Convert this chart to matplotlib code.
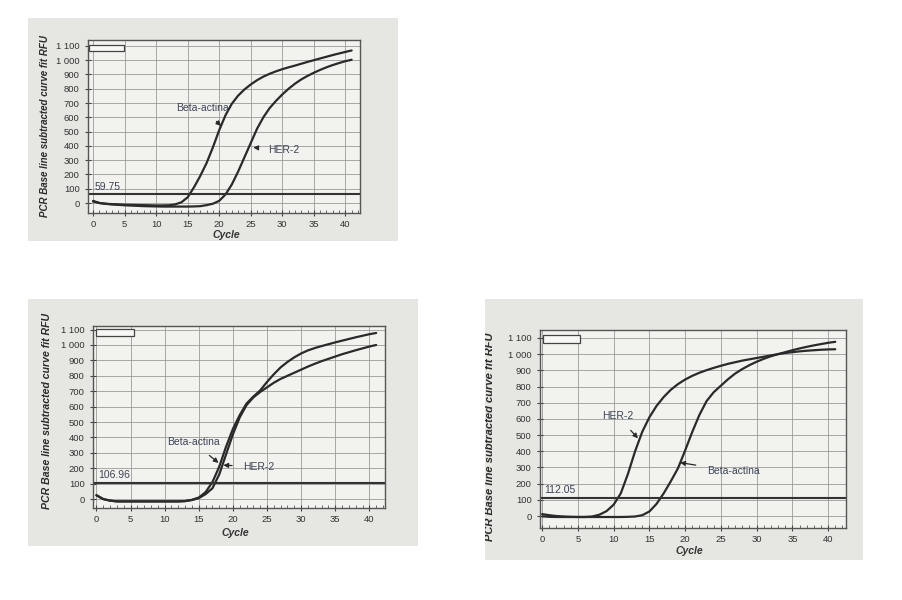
import numpy as np
import matplotlib
matplotlib.use("Agg")
import matplotlib.pyplot as plt
from matplotlib.ticker import FuncFormatter, MultipleLocator
from matplotlib.patches import Rectangle

plt.rcParams['font.family'] = ['Liberation Sans', 'DejaVu Sans']

# cycles 0..41
cycles = np.arange(0, 42)

# panel 1 (top left)
p1_beta = [15, 0, -5, -8, -10, -12, -13, -14, -15, -16, -17, -17, -16, -10, 5, 40,
           110, 190, 280, 390, 510, 615, 695, 752, 795, 830, 860, 885, 905, 922,
           937, 950, 962, 975, 988, 1000, 1012, 1024, 1036, 1047, 1058, 1068]
p1_her2 = [10, 0, -6, -10, -13, -16, -18, -20, -22, -23, -24, -25, -25, -25, -25, -25,
           -24, -22, -15, -5, 15, 60, 130, 220, 320, 420, 520, 600, 665, 715,
           760, 800, 835, 865, 890, 912, 932, 950, 966, 980, 993, 1003]
p1_threshold = 59.75

# panel 2 (bottom left)
p2_beta = [25, 0, -10, -15, -15, -15, -15, -15, -15, -15, -15, -15, -15, -13, -5, 10,
           45, 110, 210, 340, 455, 545, 620, 665, 705, 760, 810, 855, 890, 920,
           945, 965, 980, 993, 1005, 1017, 1028, 1039, 1050, 1060, 1070, 1078]
p2_her2 = [25, 0, -10, -15, -15, -15, -15, -15, -15, -15, -15, -15, -15, -13, -6, 6,
           32, 70, 160, 290, 420, 530, 610, 660, 695, 725, 755, 780, 800, 820,
           840, 860, 878, 895, 910, 925, 940, 953, 966, 978, 990, 1000]
p2_threshold = 106.96

# panel 3 (bottom right)
p3_her2 = [12, 5, 0, -3, -5, -6, -6, -3, 8, 30, 70, 140, 260, 400, 520, 610,
           680, 735, 780, 815, 843, 866, 885, 901, 915, 928, 940, 950, 960, 968,
           976, 984, 992, 1000, 1007, 1012, 1017, 1021, 1024, 1027, 1029, 1030]
p3_beta = [-2, -5, -6, -6, -6, -6, -6, -6, -6, -6, -6, -6, -5, -3, 5, 28,
           75, 140, 215, 295, 405, 520, 625, 710, 765, 805, 845, 880, 908, 932,
           953, 971, 987, 1000, 1012, 1024, 1035, 1045, 1054, 1062, 1070, 1076]
p3_threshold = 112.05

y_ticks = np.arange(0, 1101, 100)
x_ticks = np.arange(0, 41, 5)

BG = '#e6e6e2'
FACE = '#f2f2ef'
INK = '#2a2a2a'
LABEL = '#3d4457'


def thousands(v, pos):
    v = int(round(v))
    if v >= 1000:
        return f"{v // 1000} {v % 1000:03d}"
    return str(v)


def panel(fig, photo_rect, ax_rect, xlim, ylim, curves, threshold, notes,
          box, ylab, xlab_xy):
    bg = fig.add_axes(photo_rect)
    bg.set_facecolor(BG)
    bg.set_xticks([])
    bg.set_yticks([])
    for s in bg.spines.values():
        s.set_visible(False)

    ax = fig.add_axes(ax_rect)
    ax.set_facecolor(FACE)
    ax.set_xlim(*xlim)
    ax.set_ylim(*ylim)
    ax.set_xticks(x_ticks)
    ax.set_yticks(y_ticks)
    ax.xaxis.set_minor_locator(MultipleLocator(1))
    ax.yaxis.set_major_formatter(FuncFormatter(thousands))
    ax.grid(True, color='#9a9a9a', lw=0.6)
    ax.tick_params(axis='both', which='major', direction='inout', length=4,
                   labelsize=6.8, colors='#444', labelcolor='#333', pad=3)
    ax.tick_params(axis='y', which='major', pad=4)
    ax.tick_params(axis='x', which='minor', direction='in', length=2.5, colors='#555')
    for s in ax.spines.values():
        s.set_color('#555')
        s.set_linewidth(1.0)

    for vals in curves:
        ax.plot(cycles, vals, color=INK, lw=1.6, solid_capstyle='round')

    ax.axhline(threshold, color='#333', lw=1.5)
    ax.text(0.3, threshold + 15, f"{threshold:.2f}", fontsize=7.5, color=LABEL,
            va='bottom', ha='left')

    for label, txt_xy, tip_xy in notes:
        ax.annotate(label, xy=tip_xy, xytext=txt_xy, fontsize=7.5, color=LABEL,
                    ha='center', va='center',
                    arrowprops=dict(arrowstyle='-|>', color=INK, lw=0.9,
                                    mutation_scale=7, shrinkA=6, shrinkB=0))

    ax.add_patch(Rectangle(box[:2], box[2], box[3], transform=ax.transAxes,
                           facecolor='#f7f7f5', edgecolor='#444', lw=0.9, zorder=5))

    lx, ly, lva, lsize = ylab
    t = fig.text(lx, ly, 'PCR Base line subtracted curve fit RFU',
                 rotation=90, ha='center', va=lva, fontsize=lsize,
                 fontweight='bold', fontstyle='italic', color='#2a2a2a')
    t.set_clip_box(bg.bbox)
    t.set_clip_on(True)
    fig.text(xlab_xy[0], xlab_xy[1], 'Cycle', ha='center', va='center',
             fontsize=7.5, fontweight='bold', fontstyle='italic', color='#333')
    return ax


fig = plt.figure(figsize=(9.03, 6.0), dpi=100)
fig.patch.set_facecolor('white')

panel(fig, [0.031, 0.598, 0.410, 0.372], [0.0975, 0.645, 0.301, 0.288],
      (-0.8, 42.3), (-70, 1140), [p1_beta, p1_her2], p1_threshold,
      [('Beta-actina', (17.3, 666), (20.3, 540)),
       ('HER-2', (30.2, 372), (25.4, 389))],
      (0.004, 0.935, 0.13, 0.036), (0.050, 1 - 126 / 600, 'center', 7),
      (226.7 / 903, 1 - 235 / 600))

panel(fig, [0.031, 0.090, 0.432, 0.412], [0.103, 0.1533, 0.3234, 0.3033],
      (-0.5, 42.3), (-58, 1123), [p2_beta, p2_her2], p2_threshold,
      [('Beta-actina', (14.2, 368), (17.9, 235)),
       ('HER-2', (23.8, 210), (18.6, 220))],
      (0.01, 0.945, 0.13, 0.04), (0.052, 1 - 411 / 600, 'center', 7.6),
      (235 / 903, 1 - 533 / 600))

panel(fig, [0.537, 0.067, 0.419, 0.435], [0.598, 0.12, 0.3389, 0.33],
      (-0.3, 42.5), (-74, 1149), [p3_her2, p3_beta], p3_threshold,
      [('HER-2', (10.6, 615), (13.4, 480)),
       ('Beta-actina', (26.7, 277), (19.3, 330))],
      (0.01, 0.936, 0.12, 0.04), (490 / 903, 1 - 541 / 600, 'bottom', 8),
      (689 / 903, 1 - 551 / 600))

fig.savefig('out.png', dpi=100, facecolor='white')
